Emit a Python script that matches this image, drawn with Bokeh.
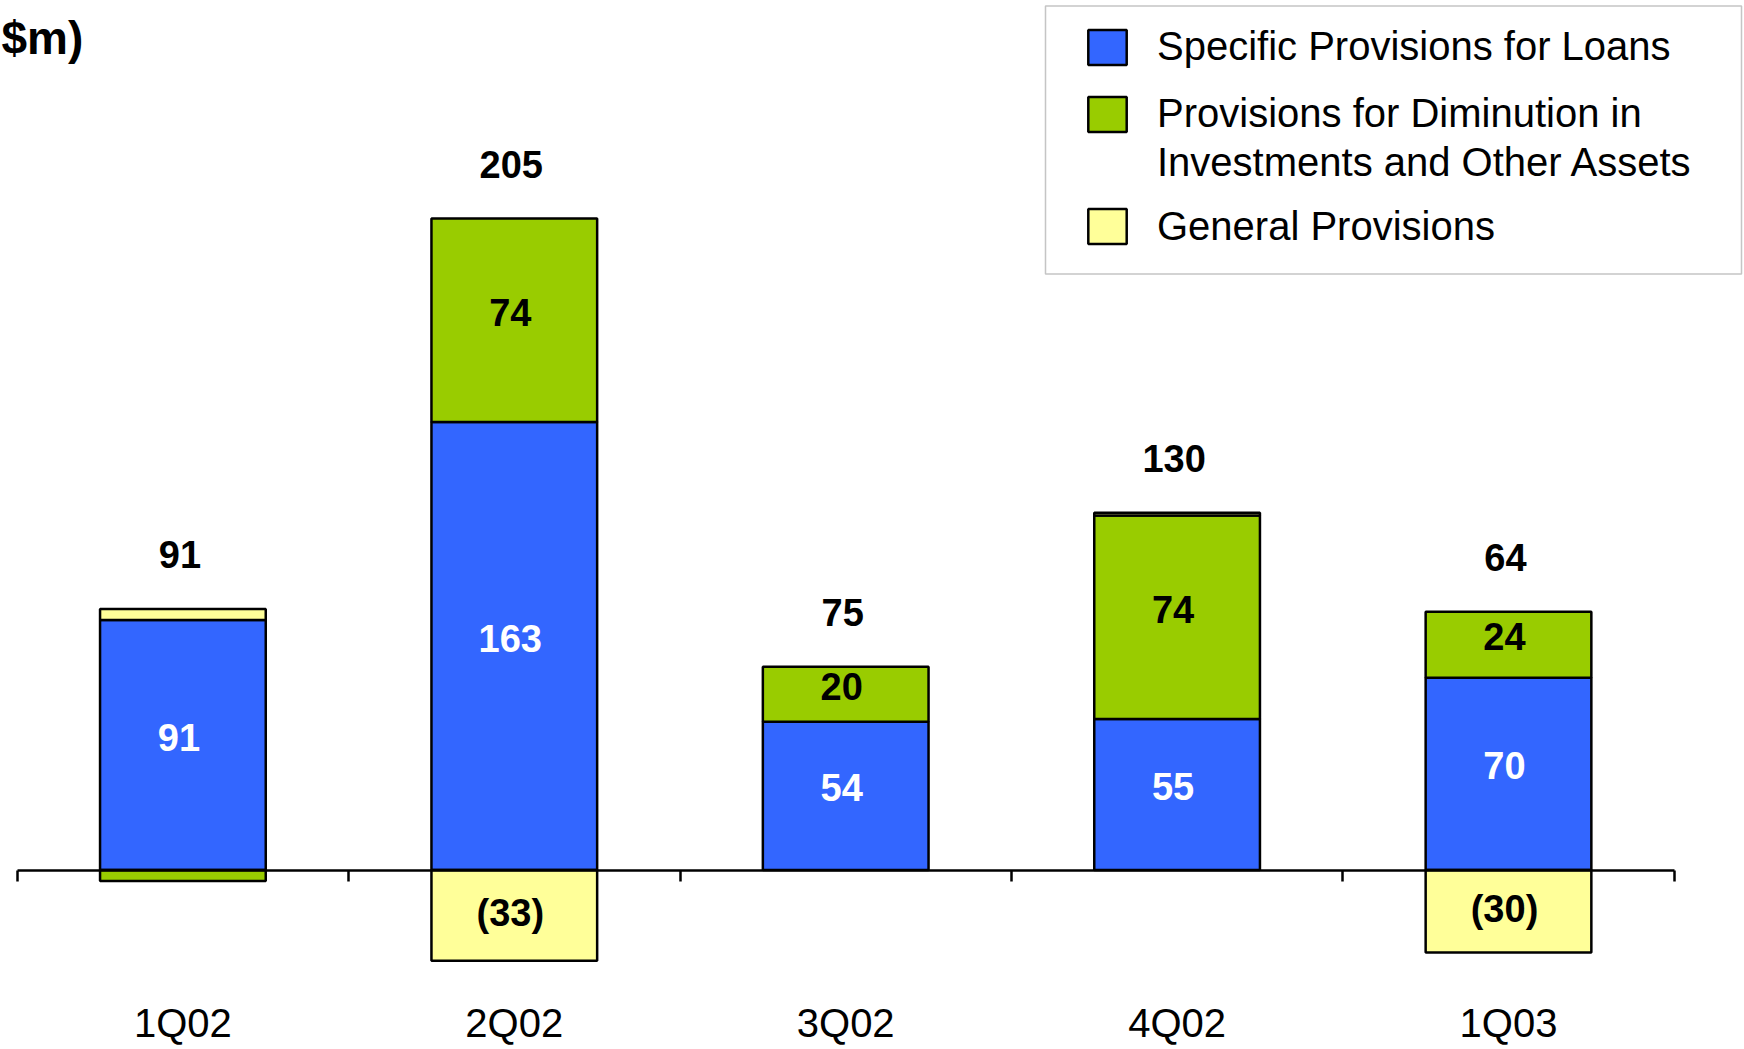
from bokeh.plotting import figure
from bokeh.models import (Range1d, LinearAxis, FixedTicker, ColumnDataSource,
                          Legend, LegendItem, BoxAnnotation)
from bokeh.core.properties import value
from bokeh.embed import file_html
from bokeh.resources import INLINE

# ---------------- data ----------------
quarters = ["1Q02", "2Q02", "3Q02", "4Q02", "1Q03"]
specific = [91, 163, 54, 55, 70]
diminution = [-4, 74, 20, 74, 24]
general = [4, -33, 0, 1, -30]
total_labels = ["91", "205", "75", "130", "64"]
specific_labels = ["91", "163", "54", "55", "70"]
diminution_labels = ["", "74", "20", "74", "24"]
general_labels = ["", "(33)", "", "", "(30)"]
series_names = ["Specific Provisions for Loans",
                "Provisions for Diminution in",
                "Investments and Other Assets",
                "General Provisions"]
colors = ["#3366FF", "#99CC00", "#FFFF99"]
label_colors = ["white", "black", "black"]
unit_text = "$m)"

# ---------------- layout constants (pixels) ----------------
W, H = 1744, 1049
FRAME_H = H
PPU_X = 331.4
X0_PX = 16.7
PPU_Y = 2.749
ZERO_PX = 869.6

x_start = -X0_PX / PPU_X
x_end = (W - X0_PX) / PPU_X
y_end = ZERO_PX / PPU_Y
y_start = -(FRAME_H - ZERO_PX) / PPU_Y


def xd(px):
    return x_start + px / PPU_X


def yd(py):
    return y_end - py / PPU_Y


FONT = "Liberation Sans"

p = figure(width=W, height=H, x_range=Range1d(x_start, x_end),
           y_range=Range1d(y_start, y_end), x_axis_location=None,
           y_axis_location=None, toolbar_location=None, output_backend="svg",
           min_border_left=0, min_border_right=0, min_border_top=0,
           min_border_bottom=0, outline_line_color=None)
p.xgrid.visible = False
p.ygrid.visible = False

# ---------------- stacked bars ----------------
xs = [i + 0.5 for i in range(len(quarters))]
pos = [0.0] * len(quarters)
neg = [0.0] * len(quarters)
renderers = []
seg_labels = [specific_labels, diminution_labels, general_labels]
label_x, label_y, label_t, label_c, label_dy = [], [], [], [], []
for s, vals in enumerate([specific, diminution, general]):
    bx, bb, bt = [], [], []
    for i, v in enumerate(vals):
        if v == 0:
            continue
        if v > 0:
            b, t = pos[i], pos[i] + v
            pos[i] = t
        else:
            t, b = neg[i], neg[i] + v
            neg[i] = b
        bx.append(xs[i]); bb.append(b); bt.append(t)
        if seg_labels[s][i]:
            label_x.append(xs[i]); label_y.append((b + t) / 2)
            label_t.append(seg_labels[s][i]); label_c.append(label_colors[s])
            label_dy.append(-8 if v > 0 else -2)
    src = ColumnDataSource(dict(x=bx, bottom=bb, top=bt))
    r = p.vbar(x="x", width=0.5, bottom="bottom", top="top", source=src,
               fill_color=colors[s], line_color="black", line_width=2.5)
    renderers.append(r)

# segment labels
lab_src = ColumnDataSource(dict(x=label_x, y=label_y, text=label_t,
                                color=label_c, dy=label_dy))
p.text(x="x", y="y", text="text", text_color="color", y_offset="dy",
       x_offset=-4, source=lab_src,
       text_align="center", text_baseline="middle",
       text_font=value(FONT), text_font_style="bold", text_font_size="38px")

# totals above stacks
p.text(x=xs, y=pos, text=total_labels, text_color="black",
       text_align="center", text_baseline="middle", y_offset=-54, x_offset=-3,
       text_font=value(FONT), text_font_style="bold", text_font_size="38px")

# unit text at top-left
p.text(x=[x_start], y=[yd(37)], text=[unit_text],
       text_align="left", text_baseline="alphabetic", x_offset=1,
       text_font=value(FONT), text_font_style="bold", text_font_size="46px",
       text_color="black")

# ---------------- axes ----------------
zero_axis = LinearAxis(fixed_location=0, bounds=(0, len(quarters)),
                       ticker=FixedTicker(ticks=list(range(len(quarters) + 1))),
                       major_tick_in=0, major_tick_out=11,
                       major_tick_line_width=2.5, axis_line_width=2.5,
                       minor_tick_line_color=None,
                       major_label_overrides={i: "" for i in range(len(quarters) + 1)})
p.add_layout(zero_axis, "below")

cat_axis = LinearAxis(fixed_location=yd(982), ticker=FixedTicker(ticks=xs),
                      major_label_overrides={x: q for x, q in zip(xs, quarters)},
                      axis_line_color=None, major_tick_line_color=None,
                      minor_tick_line_color=None, major_label_standoff=12,
                      major_label_text_font=FONT,
                      major_label_text_font_size="40px",
                      major_label_text_color="black")
p.add_layout(cat_axis, "below")

# ---------------- legend ----------------
# empty renderer so that the second line of the two-line label has no swatch
blank = p.vbar(x=[], width=0.5, top=[], fill_alpha=0, line_alpha=0)

box = BoxAnnotation(left=xd(1045), right=xd(1741), top=yd(5.6), bottom=yd(273.5),
                    fill_color="white", fill_alpha=1.0,
                    line_color="#404040", line_width=1.5)
p.add_layout(box)

ITEM_H = 45
common = dict(orientation="vertical", padding=0, margin=0,
              glyph_width=48, glyph_height=44, label_standoff=26,
              label_text_font=FONT, label_text_font_size="40px",
              label_text_color="black", border_line_color=None,
              background_fill_alpha=0.0)

top_a = 46.7 - ITEM_H / 2
sp_a = int(round(66.7 - ITEM_H))
legend_a = Legend(items=[LegendItem(label=series_names[0], renderers=[renderers[0]]),
                         LegendItem(label=series_names[1], renderers=[renderers[1]])],
                  location=(1083, FRAME_H - (top_a + 2 * ITEM_H + sp_a)),
                  spacing=sp_a, **common)
p.add_layout(legend_a, "center")

top_b = 162.4 - ITEM_H / 2
sp_b = int(round(64.4 - ITEM_H))
legend_b = Legend(items=[LegendItem(label=series_names[2], renderers=[blank]),
                         LegendItem(label=series_names[3], renderers=[renderers[2]])],
                  location=(1083, FRAME_H - (top_b + 2 * ITEM_H + sp_b)),
                  spacing=sp_b, **common)
p.add_layout(legend_b, "center")

open("out.html", "w").write(file_html(p, INLINE))
